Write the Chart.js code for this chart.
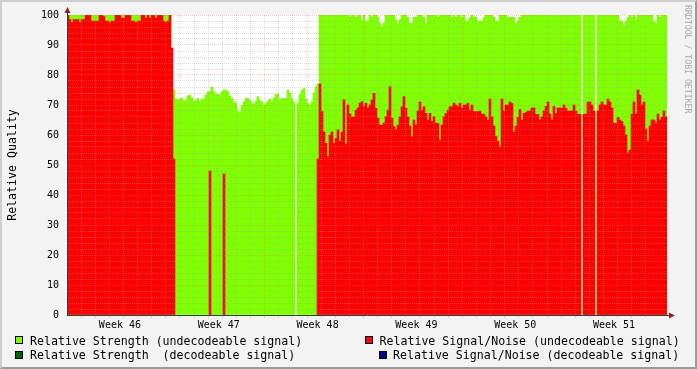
<!DOCTYPE html>
<html>
<head>
<meta charset="utf-8">
<title>Relative Quality</title>
<script src="https://cdn.jsdelivr.net/npm/chart.js@4.4.1/dist/chart.umd.min.js"></script>
<style>
  html, body { margin: 0; padding: 0; }
  body {
    width: 697px; height: 369px; position: relative; overflow: hidden;
    background: #F3F3F3;
    font-family: 'DejaVu Sans Mono', monospace;
  }
  .frame {
    position: absolute; left: 0; top: 0; width: 697px; height: 369px;
    box-sizing: border-box; border: 2px solid;
    border-color: #CFCFCF #9B9B9B #9B9B9B #CFCFCF;
  }
  canvas { position: absolute; left: 0; top: 0; }
  .ytitle {
    position: absolute; left: 12px; top: 165px; white-space: pre;
    transform: translate(-50%, -50%) rotate(-90deg);
    font-size: 11.6px; line-height: 13px; color: #000;
  }
  .mark {
    position: absolute; left: 682.5px; top: 5px; writing-mode: vertical-rl;
    font-size: 8.2px; line-height: 9px; color: #A8A8A8; white-space: pre;
  }
  .leg { position: absolute; font-size: 11.6px; line-height: 12px; white-space: pre; color: #000; }
  .box { position: absolute; width: 8px; height: 8px; box-sizing: border-box; border: 1px solid #000; }
</style>
</head>
<body>
<div class="frame"></div>
<canvas id="chart" width="697" height="369"></canvas>
<div class="ytitle">Relative Quality</div>
<div class="mark">RRDTOOL / TOBI OETIKER</div>

<div class="box" style="left:15px;top:336px;background:#80FF00"></div>
<div class="leg" style="left:30px;top:334.7px">Relative Strength (undecodeable signal)</div>
<div class="box" style="left:365px;top:336px;background:#FF0000"></div>
<div class="leg" style="left:379.5px;top:334.7px">Relative Signal/Noise (undecodeable signal)</div>
<div class="box" style="left:15px;top:351px;background:#006400"></div>
<div class="leg" style="left:30px;top:349px">Relative Strength  (decodeable signal)</div>
<div class="box" style="left:379px;top:351px;background:#000080"></div>
<div class="leg" style="left:393px;top:349px">Relative Signal/Noise (decodeable signal)</div>

<script>
// 6 weeks (1008 h) sampled into 300 bins of 3.36 h
const weekLabels = ['Week 46', 'Week 47', 'Week 48', 'Week 49', 'Week 50', 'Week 51'];
const yLabels = [0, 10, 20, 30, 40, 50, 60, 70, 80, 90, 100];

const strengthUndecoded = [
  100,100,100,100,100,100,100,100,100,100,
  100,100,100,100,100,100,100,100,100,100,
  100,100,100,100,100,100,100,100,100,100,
  100,100,100,100,100,100,100,100,100,100,
  100,100,100,100,100,100,100,100,100,100,
  100,100,74,75,72,71.7,72,72.4,71.3,71.5,
  73,73.3,72.4,71.3,71.5,72.2,71.3,72,72,73.3,
  74.4,74.4,76,74.5,73.6,73.6,73.3,74.5,75,75,
  74.5,73,72.2,71,70.6,68,67.5,69.8,71.1,72.2,
  72.2,71.5,70.5,70.2,71.3,72.8,71.5,71.1,70,70.5,
  71.3,72,71.1,72.4,73.6,73.6,71.7,72.2,72.2,72.2,
  75,74,72.2,71.1,null,70.6,73.5,75,75.5,72,
  70.6,70,71,74,76,77,100,100,100,100,
  100,100,100,100,100,100,100,100,100,100,
  100,99.2,100,100,99.2,100,100,98.3,100,98,
  98,100,99.2,100,100,99.2,97.2,96.1,97.2,100,
  100,100,100,100,98.3,97.2,98.5,100,100,100,
  99.2,97.2,97.2,99.2,99.2,100,100,100,99.2,97.2,
  100,100,100,100,100,99.2,100,100,100,100,
  100,100,99.2,100,99.2,100,100,99.2,100,98,
  98,99.2,100,99.2,99.2,98,98,98,99.2,100,
  100,100,100,99.2,98,98,100,100,100,100,
  99.2,99.2,99.2,99.2,97.2,98,99.2,100,100,100,
  100,100,100,100,100,100,100,100,100,100,
  100,100,100,100,100,100,100,100,100,100,
  100,100,100,100,100,100,100,null,100,100,
  100,100,100,100,null,100,100,100,100,100,
  100,100,100,100,100,100,98,98,96.1,98,
  99.2,100,99.2,100,98.3,100,100,100,100,100,
  100,100,100,98,97.2,100,99.2,100,100,100
];

const snrUndecoded = [
  100,98.5,97.5,98.5,98.5,98.5,97.5,98.5,98.5,100,
  100,100,98,98,98,98,100,100,99.5,98,
  98,97.5,98,98,100,100,100,99,99,100,
  100,100,98,98,97.5,98,98,100,100,99,
  100,99,100,100,99,100,100,100,98,97.5,
  98,100,89,52,null,null,null,null,null,null,
  null,null,null,null,null,null,null,null,null,null,
  null,48,null,null,null,null,null,null,47,null,
  null,null,null,null,null,null,null,null,null,null,
  null,null,null,null,null,null,null,null,null,null,
  null,null,null,null,null,null,null,null,null,null,
  null,null,null,null,null,null,null,null,null,null,
  null,null,null,null,null,52,77,67.8,61,57.2,
  52.8,60,61,57.2,58.9,61.7,58,61,71.7,57,
  70,67,66,66,68.3,69,70.6,71.1,69.4,70.6,
  69,70,71.7,73.9,68.9,65.6,63.3,63.3,64,66.1,
  68.3,76.1,65.6,62.8,61.7,63.3,66,69.4,72.8,68.9,
  66,63,59.4,65,63.3,68,71,68.3,69.4,67.2,
  65,67.2,64.5,66.1,64,63.9,58.3,63.3,66.1,67.2,
  68.3,69.4,69.4,70.6,70,69.4,70.6,68.9,70,70,
  70.6,68.3,70,67.8,67.8,67.8,68,67,66.9,66,
  65,72,66,63,59.5,58,56,72,68,70,
  70,71,70.5,61,63,65.9,68.5,65,67.2,67.5,
  68,68,69,69,66.9,66.9,65,66,68,69.5,
  71,67,65,69.5,67.2,69,69,68.9,70,68.9,
  68,68,68,70,68,66.9,66.9,null,66.9,67,
  71,71,70,68,null,68,70,71,70,70,
  72,71,69,64,63.9,65.9,65,64.5,63,60,
  54,55,66.9,71,67,75,73.3,70,71,62,
  58,63,65,65,64,67,65,65.9,68,66
];

const HOURS = 1008;
const binHours = strengthUndecoded.map((v, i) => +(i * HOURS / strengthUndecoded.length).toFixed(2));

const AXIS = '#2C3E4A';
const ARROW = '#A01C1C';
const GRID = 'rgba(160,160,160,0.35)';
const MGRID = 'rgba(240,100,100,0.35)';

Chart.defaults.font.family = "'DejaVu Sans Mono', monospace";
Chart.defaults.font.size = 10;
Chart.defaults.color = '#000';

// white canvas behind the bars
const canvasBg = {
  id: 'canvasBg',
  beforeDraw(chart) {
    const { ctx, chartArea: a } = chart;
    ctx.save();
    ctx.fillStyle = '#FFFFFF';
    ctx.fillRect(a.left, a.top, a.right - a.left, a.bottom - a.top);
    ctx.restore();
  },
};

// rrdtool style axis arrows
const axisArrows = {
  id: 'axisArrows',
  afterDraw(chart) {
    const { ctx, chartArea: a } = chart;
    const x0 = a.left + 0.5, y0 = a.bottom + 0.5;
    ctx.save();
    ctx.strokeStyle = AXIS;
    ctx.lineWidth = 1;
    ctx.beginPath();
    ctx.moveTo(x0, a.top); ctx.lineTo(x0, a.top - 3);
    ctx.moveTo(a.right, y0); ctx.lineTo(a.right + 3, y0);
    ctx.stroke();
    ctx.fillStyle = ARROW;
    ctx.beginPath();
    ctx.moveTo(x0 - 3, a.top - 2); ctx.lineTo(x0 + 3, a.top - 2); ctx.lineTo(x0, a.top - 8);
    ctx.closePath(); ctx.fill();
    ctx.beginPath();
    ctx.moveTo(a.right + 2, y0 - 3); ctx.lineTo(a.right + 2, y0 + 3); ctx.lineTo(a.right + 8, y0);
    ctx.closePath(); ctx.fill();
    ctx.restore();
  },
};

function xGridColor(ctx) {
  if (!ctx.tick) return 'transparent';
  const v = ctx.tick.value;
  if (v <= 0 || v >= HOURS) return 'transparent';
  if (v % 168 === 0) return MGRID;
  if (v % 24 === 0) return GRID;
  return 'transparent';
}

function yGridColor(ctx) {
  if (!ctx.tick) return 'transparent';
  const v = ctx.tick.value;
  if (v === 0) return 'transparent';
  return v % 10 === 0 ? MGRID : GRID;
}

function weekLabelAt(v) {
  if ((v - 84) % 168 !== 0) return '';
  return weekLabels[(v - 84) / 168] || '';
}

const barStyle = { grouped: false, barPercentage: 1, categoryPercentage: 1, borderWidth: 0, xAxisID: 'bins' };

new Chart(document.getElementById('chart'), {
  type: 'bar',
  data: {
    labels: binHours,
    datasets: [
      { ...barStyle, label: 'Relative Signal/Noise (undecodeable signal)', data: snrUndecoded, backgroundColor: '#FF0000', order: 0 },
      { ...barStyle, label: 'Relative Strength (undecodeable signal)', data: strengthUndecoded, backgroundColor: '#80FF00', order: 1 },
    ],
  },
  options: {
    responsive: false,
    devicePixelRatio: 1,
    animation: false,
    layout: { padding: { top: 15, right: 30, left: 0, bottom: 0 } },
    plugins: { legend: { display: false }, tooltip: { enabled: false } },
    scales: {
      bins: { type: 'category', axis: 'x', display: false, offset: true },
      x: {
        type: 'linear', position: 'bottom', min: 0, max: HOURS,
        afterFit(s) { s.height = 54; s.paddingLeft = 0; s.paddingRight = 0; },
        ticks: {
          z: 2, stepSize: 12, maxTicksLimit: 1000, autoSkip: false, maxRotation: 0, padding: 1,
          callback: (v) => weekLabelAt(v),
        },
        grid: { z: 1, color: xGridColor, lineWidth: 1, drawTicks: true, tickLength: 3 },
        border: { z: 2, display: true, color: AXIS, width: 1, dash: [1, 1] },
      },
      y: {
        type: 'linear', min: 0, max: 100,
        afterFit(s) { s.width = 67; s.paddingTop = 0; s.paddingBottom = 0; },
        ticks: {
          z: 2, stepSize: 2, maxTicksLimit: 1000, autoSkip: false, padding: 8,
          callback: (v) => (yLabels.includes(v) ? String(v) : ''),
        },
        grid: { z: 1, color: yGridColor, lineWidth: 1, drawTicks: false },
        border: { z: 2, display: true, color: AXIS, width: 1, dash: [1, 1] },
      },
    },
  },
  plugins: [canvasBg, axisArrows],
});
</script>
</body>
</html>
